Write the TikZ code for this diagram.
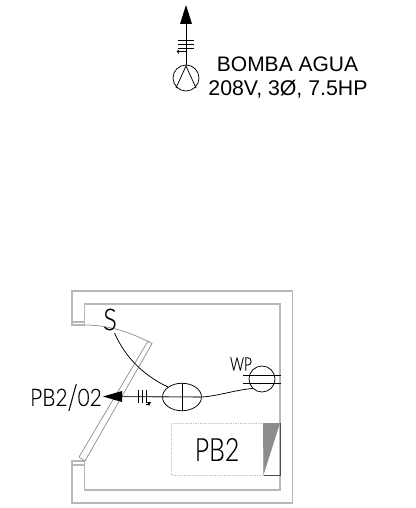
\documentclass[tikz,border=0pt]{standalone}
\usepackage{fontspec}
\setmainfont{Liberation Sans}
\newfontfamily\cad[RawFeature={embolden=0.12}]{Lato Light}
\usetikzlibrary{shapes.geometric,arrows.meta}
\tikzset{
 wall/.style={draw=black!28,line width=1.1pt,line join=miter},
 wallthin/.style={draw=black!45,line width=.7pt},
 wire/.style={draw=black,line width=.75pt},
 lbl/.style={inner sep=0pt,text=black},
 fix/.style={draw=black,line width=.75pt,fill=white,inner sep=0pt},
}
\begin{document}
\begin{tikzpicture}[x=1pt,y=-1pt]
\useasboundingbox (0,0) rectangle (415,508);
% walls
\draw[wall] (72,325) -- (72,291) -- (292.5,291) -- (292.5,503) -- (72,503) -- (72,461) -- (84.5,461) -- (84.5,490) -- (280,490) -- (280,304) -- (84.5,304) -- (84.5,325) -- cycle;
\draw[wall] (72,322) -- (84.5,322);
\draw[wall] (72,465) -- (84.5,465);
% door
\draw[wallthin] (84.5,325) .. controls (106,325) and (128,331) .. (149,342);
\draw[wallthin] (148,341) -- (152,343.5) -- (85,461) -- (79,457) -- cycle;
% equipment box
\draw[draw=black!22,dash pattern=on 1.5pt off 1pt,line width=.7pt] (171,423) rectangle (263,475);
\fill[black!45] (263,423) -- (280,423) -- (263.5,475) -- cycle;
\draw[black!70,line width=.9pt] (280,423) -- (280,475) -- (264,475);
\node[lbl,font=\cad\fontsize{32}{32}\selectfont] (pb) at (217,449.5) {\scalebox{.78}[1]{PB2}};
% junction and fixtures
\node[fix,ellipse,minimum width=39pt,minimum height=27.5pt] (jb) at (182,397) {};
\draw[black!70,line width=1.1pt] (121,396.5) -- (jb.east);
\draw[wire] (jb.north) -- (jb.south);
\node[fix,circle,minimum size=26pt] (wp) at (262,379) {};
\draw[wire] (243,375) -- (281,375);
\draw[wire] (243,383) -- (281,383);
\node[lbl,font=\cad\fontsize{18.5}{19}\selectfont] (wpl) at (241,364) {\scalebox{.74}[1]{WP}};
\node[lbl,font=\cad\fontsize{30}{30}\selectfont] (sw) at (110,319.5) {\scalebox{.85}[1]{S}};
\node[lbl,font=\cad\fontsize{24}{24}\selectfont] (dest) at (66,397.5) {\scalebox{.87}[1]{PB2\raisebox{-3.5pt}{\scalebox{1.1}[1.45]{/}}02}};
\coordinate (tip) at (103,396.5);
\coordinate (base) at (122,396.5);
\fill[black] (tip) -- (122,391) -- (122,402) -- cycle;
\draw[wire] (114.5,333) .. controls (126,359) and (145,376) .. (jb.north west);
\draw[wire] (jb.east) .. controls (218,396) and (235,390) .. (wp.south west);
\draw[black,line width=.8pt] (138,390) -- (138,403) (142,390) -- (142,403) (146,390) -- (146,403);
\draw[black,line width=.6pt] (146,404) -- (149,404);
\fill[black] (147,402) -- (151,402) -- (149,406) -- cycle;
% pump
\node[fix,circle,minimum size=26pt] (pump) at (186,78) {};
\coordinate (top) at (186,22);
\draw[wire] (top) -- (pump.north);
\fill[black] (186,5) -- (192,24) -- (180,24) -- cycle;
\draw[wire] (178,40) -- (194,40) (178,44) -- (194,44) (178,48) -- (194,48);
\draw[black,line width=.6pt] (186,51) -- (178,51);
\fill[black] (176.5,51) -- (179,50) -- (178.5,54) -- cycle;
\draw[wire] (176,88) -- (186,66) -- (196,88);
\node[lbl,font=\fontsize{21}{21}\selectfont] (t1) at (287.5,64) {BOMBA AGUA};
\node[lbl,font=\fontsize{21.3}{21}\selectfont] (t2) at (288,89) {208V, 3Ø, 7.5HP};
\end{tikzpicture}
\end{document}
